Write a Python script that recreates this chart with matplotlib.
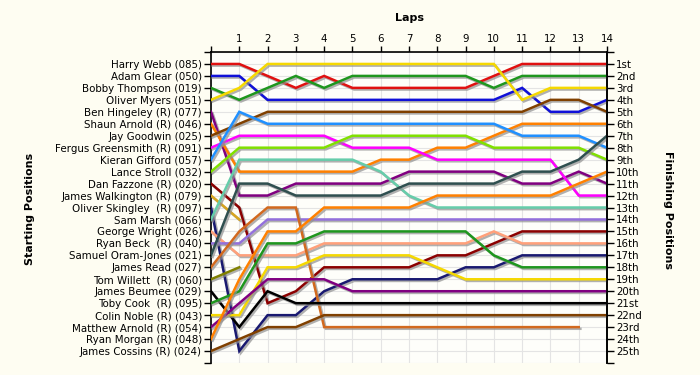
import matplotlib
matplotlib.use("Agg")
import matplotlib.pyplot as plt
import matplotlib.patheffects as pe

# starting grid (position 1..25)
DRIVERS = [
	"Harry Webb (085)", "Adam Glear (050)", "Bobby Thompson (019)", "Oliver Myers (051)",
	"Ben Hingeley (R) (077)", "Shaun Arnold (R) (046)", "Jay Goodwin (025)",
	"Fergus Greensmith (R) (091)", "Kieran Gifford (057)", "Lance Stroll (032)",
	"Dan Fazzone (R) (020)", "James Walkington (R) (079)", "Oliver Skingley  (R) (097)",
	"Sam Marsh (066)", "George Wright (026)", "Ryan Beck  (R) (040)",
	"Samuel Oram-Jones (021)", "James Read (027)", "Tom Willett  (R) (060)",
	"James Beumee (029)", "Toby Cook  (R) (095)", "Colin Noble (R) (043)",
	"Matthew Arnold (R) (054)", "Ryan Morgan (R) (048)", "James Cossins (R) (024)",
]

COLORS = [
	"#e01010", "#1010d8", "#1e961e", "#f5d800", "#800080", "#ff8000", "#804000",
	"#ff00ff", "#2090ff", "#80e000", "#8b0000", "#d8a520", "#191970", "#66cdaa",
	"#ffa07a", "#9370db", "#2f4f4f", "#d2691e", "#808000", "#000000",
	"#1e961e", "#f5d800", "#800080", "#ff8000", "#804000",
]

# position at the end of each lap, lap 0 = grid
harry_webb = [1, 1, 2, 3, 2, 3, 3, 3, 3, 3, 2, 1, 1, 1, 1]
adam_glear = [2, 2, 4, 4, 4, 4, 4, 4, 4, 4, 4, 3, 5, 5, 4]
bobby_thompson = [3, 4, 3, 2, 3, 2, 2, 2, 2, 2, 3, 2, 2, 2, 2]
oliver_myers = [4, 3, 1, 1, 1, 1, 1, 1, 1, 1, 1, 4, 3, 3, 3]
ben_hingeley = [5, 12, 12, 11, 11, 11, 11, 10, 10, 10, 10, 11, 11, 10, 11]
shaun_arnold = [6, 10, 10, 10, 10, 10, 9, 9, 8, 8, 7, 6, 6, 6, 6]
jay_goodwin = [7, 6, 5, 5, 5, 5, 5, 5, 5, 5, 5, 5, 4, 4, 5]
fergus_greensmith = [8, 7, 7, 7, 7, 8, 8, 8, 9, 9, 9, 9, 9, 12, 12]
kieran_gifford = [9, 5, 6, 6, 6, 6, 6, 6, 6, 6, 6, 7, 7, 7, 8]
lance_stroll = [10, 8, 8, 8, 8, 7, 7, 7, 7, 7, 8, 8, 8, 8, 9]
dan_fazzone = [11, 13, 21, 20, 18, 18, 18, 18, 17, 17, 16, 15, 15, 15, 15]
james_walkington = [12, 14]
oliver_skingley = [13, 25, 22, 22, 20, 19, 19, 19, 19, 18, 18, 17, 17, 17, 17]
sam_marsh = [14, 9, 9, 9, 9, 9, 10, 12, 13, 13, 13, 13, 13, 13, 13]
george_wright = [15, 17, 17, 17, 16, 16, 16, 16, 16, 16, 15, 16, 16, 16, 16]
ryan_beck = [16, 16, 14, 14, 14, 14, 14, 14, 14, 14, 14, 14, 14, 14, 14]
samuel_oram_jones = [17, 11, 11, 12, 12, 12, 12, 11, 11, 11, 11, 10, 10, 9, 7]
james_read = [18, 15, 13, 13, 23, 23, 23, 23, 23, 23, 23, 23, 23, 23]
tom_willett = [19, 18]
james_beumee = [20, 23, 20, 21, 21, 21, 21, 21, 21, 21, 21, 21, 21, 21, 21]
toby_cook = [21, 20, 16, 16, 15, 15, 15, 15, 15, 15, 17, 18, 18, 18, 18]
colin_noble = [22, 22, 18, 18, 17, 17, 17, 17, 18, 19, 19, 19, 19, 19, 19]
matthew_arnold = [23, 21, 19, 19, 19, 20, 20, 20, 20, 20, 20, 20, 20, 20, 20]
ryan_morgan = [24, 19, 15, 15, 13, 13, 13, 13, 12, 12, 12, 12, 12, 11, 10]
james_cossins = [25, 24, 23, 23, 22, 22, 22, 22, 22, 22, 22, 22, 22, 22, 22]

RUNS = [
	harry_webb, adam_glear, bobby_thompson, oliver_myers, ben_hingeley, shaun_arnold,
	jay_goodwin, fergus_greensmith, kieran_gifford, lance_stroll, dan_fazzone,
	james_walkington, oliver_skingley, sam_marsh, george_wright, ryan_beck,
	samuel_oram_jones, james_read, tom_willett, james_beumee, toby_cook, colin_noble,
	matthew_arnold, ryan_morgan, james_cossins,
]

N_LAPS = 14
FINISH_LABELS = [
	"1st", "2nd", "3rd", "4th", "5th", "6th", "7th", "8th", "9th", "10th", "11th", "12th",
	"13th", "14th", "15th", "16th", "17th", "18th", "19th", "20th", "21st", "22nd", "23rd",
	"24th", "25th",
]

BG = "#fefdf2"
plt.rcParams["font.family"] = "DejaVu Sans"
LABEL_SIZE = 7.4

fig = plt.figure(figsize=(7, 3.75), dpi=100, facecolor=BG)
ax = fig.add_axes([211 / 700, 12 / 375, 396 / 700, 311 / 375])
ax.set_facecolor("#fefefa")

shadow = [pe.SimpleLineShadow(offset=(1.2, -1.2), shadow_color="#909090", alpha=0.7), pe.Normal()]
for run, color in zip(RUNS, COLORS):
	ax.plot(range(len(run)), run, color=color, lw=1.8, solid_joinstyle="miter",
			path_effects=shadow, zorder=3)

n = len(DRIVERS)
ax.set_xlim(0, N_LAPS)
ax.set_ylim(n + 1, 0)

ax.set_xticks(range(N_LAPS + 1))
ax.set_xticklabels([""] + [str(i) for i in range(1, N_LAPS + 1)])
ax.xaxis.tick_top()
ax.set_yticks(range(n + 2))
ax.set_yticklabels([""] + DRIVERS + [""])
ax.grid(True, color="#e4e4e4", lw=0.8, zorder=0)
ax.tick_params(axis="both", direction="out", length=5, width=1, labelsize=LABEL_SIZE, pad=1.5)
ax.tick_params(axis="x", length=4, pad=2)

ax.spines["bottom"].set_visible(False)
for side in ["top", "left", "right"]:
	ax.spines[side].set_linewidth(1.2)

ax2 = ax.twinx()
ax2.set_ylim(n + 1, 0)
ax2.set_yticks(range(n + 2))
ax2.set_yticklabels([""] + FINISH_LABELS + [""])
ax2.tick_params(axis="y", direction="out", length=5, width=1, labelsize=LABEL_SIZE, pad=1.5)
for side in ["top", "bottom", "left"]:
	ax2.spines[side].set_visible(False)
ax2.spines["right"].set_linewidth(1.2)

fig.text(409 / 700, 1 - 18 / 375, "Laps", ha="center", va="center", fontsize=8, fontweight="bold")
fig.text(30 / 700, 1 - 209 / 375, "Starting Positions", ha="center", va="center",
		 rotation=90, fontsize=8, fontweight="bold")
fig.text(668 / 700, 1 - 210 / 375, "Finishing Positions", ha="center", va="center",
		 rotation=-90, fontsize=8, fontweight="bold")

fig.savefig("out.png", dpi=100, facecolor=BG)
